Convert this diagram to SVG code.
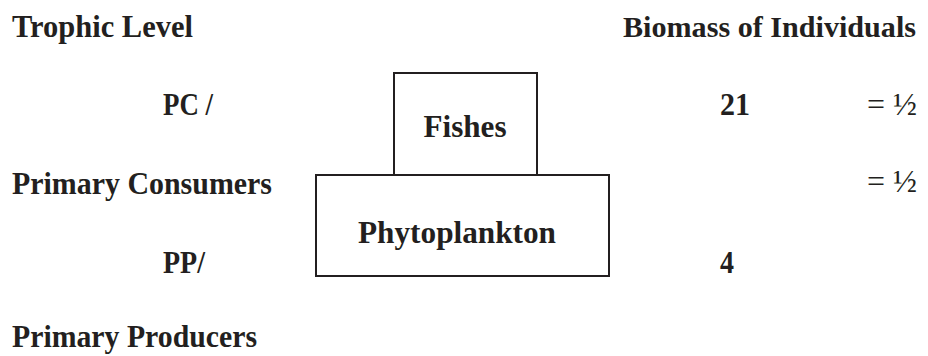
<svg xmlns="http://www.w3.org/2000/svg" width="928" height="356" viewBox="0 0 928 356">
<style>
text{font-family:"Liberation Serif","Times New Roman",serif;fill:#231f20;font-size:32px}
.b{font-weight:bold}
.box{fill:#fff;stroke:#231f20;stroke-width:2}
</style>
<rect width="928" height="356" fill="#fff"/>
<g id="labels">
<text class="b" x="12" y="37" textLength="181" lengthAdjust="spacingAndGlyphs">Trophic Level</text>
<text class="b" x="623" y="37" style="font-size:30px" textLength="293" lengthAdjust="spacingAndGlyphs">Biomass of Individuals</text>
<text class="b" x="163" y="115" textLength="50" lengthAdjust="spacingAndGlyphs">PC /</text>
<text class="b" x="12" y="194" textLength="260" lengthAdjust="spacingAndGlyphs">Primary Consumers</text>
<text class="b" x="163" y="273" textLength="42" lengthAdjust="spacingAndGlyphs">PP/</text>
<text class="b" x="12" y="347" textLength="245" lengthAdjust="spacingAndGlyphs">Primary Producers</text>
<text class="b" x="720" y="115" textLength="30" lengthAdjust="spacingAndGlyphs">21</text>
<text class="b" x="720" y="273" textLength="14" lengthAdjust="spacingAndGlyphs">4</text>
<text x="867" y="115" textLength="50" lengthAdjust="spacingAndGlyphs">= ½</text>
<text x="867" y="192" textLength="50" lengthAdjust="spacingAndGlyphs">= ½</text>
</g>
<g id="fishes">
<rect class="box" x="394" y="73" width="143" height="102"/>
<text class="b" x="465" y="137" text-anchor="middle" textLength="83" lengthAdjust="spacingAndGlyphs">Fishes</text>
</g>
<g id="phytoplankton">
<rect class="box" x="316" y="175" width="293" height="101"/>
<text class="b" x="457" y="243" text-anchor="middle" textLength="198" lengthAdjust="spacingAndGlyphs">Phytoplankton</text>
</g>
<g id="connectors"></g>
</svg>
